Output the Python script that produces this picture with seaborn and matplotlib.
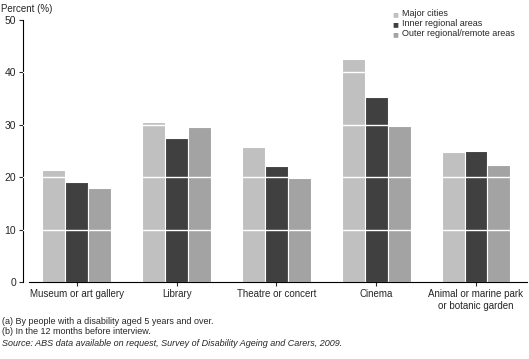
import pandas as pd
import matplotlib
matplotlib.use("Agg")
import matplotlib.pyplot as plt
import seaborn as sns

categories = ["Museum or art gallery", "Library", "Theatre or concert", "Cinema",
              "Animal or marine park\nor botanic garden"]
series = ["Major cities", "Inner regional areas", "Outer regional/remote areas"]
major_cities = [21.4, 30.5, 25.8, 42.6, 24.8]
inner_regional = [19.1, 27.5, 22.1, 35.3, 25.0]
outer_regional = [17.9, 29.6, 19.8, 29.8, 22.3]
colors = ["#c0c0c0", "#404040", "#a3a3a3"]

df = pd.DataFrame({
    "category": categories * 3,
    "series": [series[0]] * 5 + [series[1]] * 5 + [series[2]] * 5,
    "value": major_cities + inner_regional + outer_regional,
})

sns.set_style("white")
plt.rcParams["font.family"] = ["Liberation Sans", "DejaVu Sans"]

fig = plt.figure(figsize=(5.29, 3.59), dpi=100)
ax = fig.add_axes([0.0435, 0.2145, 0.9525, 0.7295])

sns.barplot(data=df, x="category", y="value", hue="series", palette=colors,
            width=0.69, gap=0, edgecolor="white", linewidth=0.8,
            saturation=1, ax=ax, legend=False)

# white gridlines drawn over the bars
for yv in range(10, 50, 10):
    ax.axhline(yv, color="white", lw=1.0, zorder=5)

ax.set_ylim(0, 50)
ax.set_xlim(-0.54, 4.51)
ax.set_yticks(range(0, 51, 10))
ax.set_xlabel("")
ax.set_ylabel("")
for s in ["top", "right"]:
    ax.spines[s].set_visible(False)
ax.spines["left"].set_color("black")
ax.spines["bottom"].set_color("black")
ax.spines["left"].set_linewidth(0.8)
ax.spines["bottom"].set_linewidth(0.8)
ax.spines["bottom"].set_bounds(-0.48, 4.51)
ax.tick_params(axis="y", length=3, width=0.8, labelsize=7.5, pad=2, left=True)
ax.tick_params(axis="x", length=3, width=0.8, labelsize=7, pad=2, bottom=True)

fig.text(0.002, 0.975, "Percent (%)", fontsize=7, va="center", ha="left")

# legend
leg_y = [14, 24, 34]
for name, c, y in zip(series, colors, leg_y):
    fig.text(392 / 529, 1 - y / 359, "\u25a0", color=c, fontsize=7,
             va="center", ha="left")
    fig.text(402 / 529, 1 - y / 359, name, fontsize=6.5, va="center", ha="left")

fig.text(0.004, 1 - 321.5 / 359, "(a) By people with a disability aged 5 years and over.",
         fontsize=6.5, va="center")
fig.text(0.004, 1 - 332 / 359, "(b) In the 12 months before interview.",
         fontsize=6.5, va="center")
fig.text(0.004, 1 - 343 / 359,
         "Source: ABS data available on request, Survey of Disability Ageing and Carers, 2009.",
         fontsize=6.5, va="center", style="italic")

fig.savefig("out.png", dpi=100)
